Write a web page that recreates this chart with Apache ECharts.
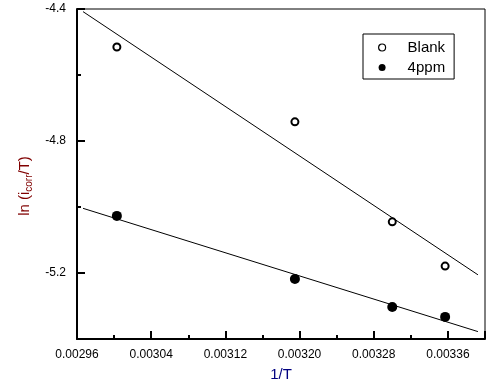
<!DOCTYPE html>
<html><head><meta charset="utf-8">
<script src="https://cdn.jsdelivr.net/npm/echarts@6/dist/echarts.min.js"></script>
<style>html,body{margin:0;padding:0;background:#fff}#c{width:497px;height:392px}</style>
</head><body><div id="c"></div>
<script>
const xTicks = [0.00296, 0.00304, 0.00312, 0.00320, 0.00328, 0.00336];
const yTicks = [-4.4, -4.8, -5.2];
const invT = [0.003003, 0.003195, 0.0033, 0.003357];
const blank = [-4.515, -4.742, -5.045, -5.179];
const ppm4 = [-5.027, -5.218, -5.303, -5.333];
const fitX = [0.0029665, 0.0033924];
const blankFit = [-4.408, -5.2055];
const ppmFit = [-5.004, -5.3776];

const pairs = (xs, ys) => xs.map((x, i) => [x, ys[i]]);
const near = (v, arr) => arr.some(t => Math.abs(t - v) < 1e-7);
const nearY = (v, arr) => arr.some(t => Math.abs(t - v) < 1e-4);

const chart = echarts.init(document.getElementById('c'));
chart.setOption({
  animation: false,
  grid: { left: 77, top: 9, right: 12, bottom: 53, show: true, borderColor: '#000', borderWidth: 1 },
  xAxis: {
    type: 'value', min: 0.00296, max: 0.0034, interval: 0.00008, position: 'bottom',
    axisLine: { onZero: false, lineStyle: { color: '#000', width: 2 } },
    axisTick: { inside: true, length: 8, lineStyle: { color: '#000', width: 2 } },
    minorTick: { show: true, splitNumber: 2, length: 4, lineStyle: { color: '#000', width: 2 } },
    splitLine: { show: false },
    axisLabel: { margin: 10, fontFamily: 'Arial, Liberation Sans', fontSize: 12, color: '#000',
      formatter: v => near(v, xTicks) ? v.toFixed(5) : '' },
    name: '1/T', nameLocation: 'middle', nameGap: 28,
    nameTextStyle: { fontFamily: 'Arial, Liberation Sans', fontSize: 15, color: '#000080' }
  },
  yAxis: [{
    type: 'value', min: -5.4, max: -4.4, interval: 0.2,
    axisLine: { onZero: false, lineStyle: { color: '#000', width: 2 } },
    axisTick: { inside: true, length: 4, lineStyle: { color: '#000', width: 2 } },
    splitLine: { show: false },
    axisLabel: { margin: 11, fontFamily: 'Arial, Liberation Sans', fontSize: 12, color: '#000',
      formatter: v => nearY(v, yTicks) ? v.toFixed(1) : '' },
    name: '{a|ln (i}{b|corr}{a|/T)}', nameLocation: 'middle', nameGap: 40,
    nameTextStyle: {
      color: '#800000', padding: [0, 24, 0, 0],
      rich: {
        a: { fontFamily: 'Arial, Liberation Sans', fontSize: 15, color: '#800000', lineHeight: 20 },
        b: { fontFamily: 'Arial, Liberation Sans', fontSize: 10, color: '#800000', lineHeight: 20, padding: [9, 0, 0, 0] }
      }
    }
  }, {
    // major-tick helper axis: distance below -4.4, ticks at -4.4, -4.8, -5.2
    type: 'value', position: 'left', min: 0, max: 1, interval: 0.4, inverse: true,
    axisLine: { show: false, onZero: false },
    axisTick: { inside: true, length: 8, lineStyle: { color: '#000', width: 2 } },
    axisLabel: { show: false },
    splitLine: { show: false }
  }],
  legend: {
    orient: 'vertical', left: 363, top: 34,
    padding: [6, 9, 4, 15], itemGap: 5, itemWidth: 7, itemHeight: 7,
    borderColor: '#000', borderWidth: 1,
    textStyle: { fontFamily: 'Arial, Liberation Sans', fontSize: 15, color: '#000', padding: [0, 0, 0, 17] },
    data: [
      { name: 'Blank', icon: 'circle', itemStyle: { color: '#fff', borderColor: '#000', borderWidth: 1.2 } },
      { name: '4ppm', icon: 'circle', itemStyle: { color: '#000', borderWidth: 0 } }
    ]
  },
  series: [
    { name: 'BlankFit', type: 'line', data: pairs(fitX, blankFit), symbol: 'none', silent: true,
      lineStyle: { color: '#000', width: 1 } },
    { name: 'ppmFit', type: 'line', data: pairs(fitX, ppmFit), symbol: 'none', silent: true,
      lineStyle: { color: '#000', width: 1 } },
    { name: 'Blank', type: 'scatter', data: pairs(invT, blank), symbol: 'circle', symbolSize: 7,
      itemStyle: { color: '#fff', borderColor: '#000', borderWidth: 2, opacity: 1 } },
    { name: '4ppm', type: 'scatter', data: pairs(invT, ppm4), symbol: 'circle', symbolSize: 10,
      itemStyle: { color: '#000', opacity: 1 } }
  ]
});
</script></body></html>
